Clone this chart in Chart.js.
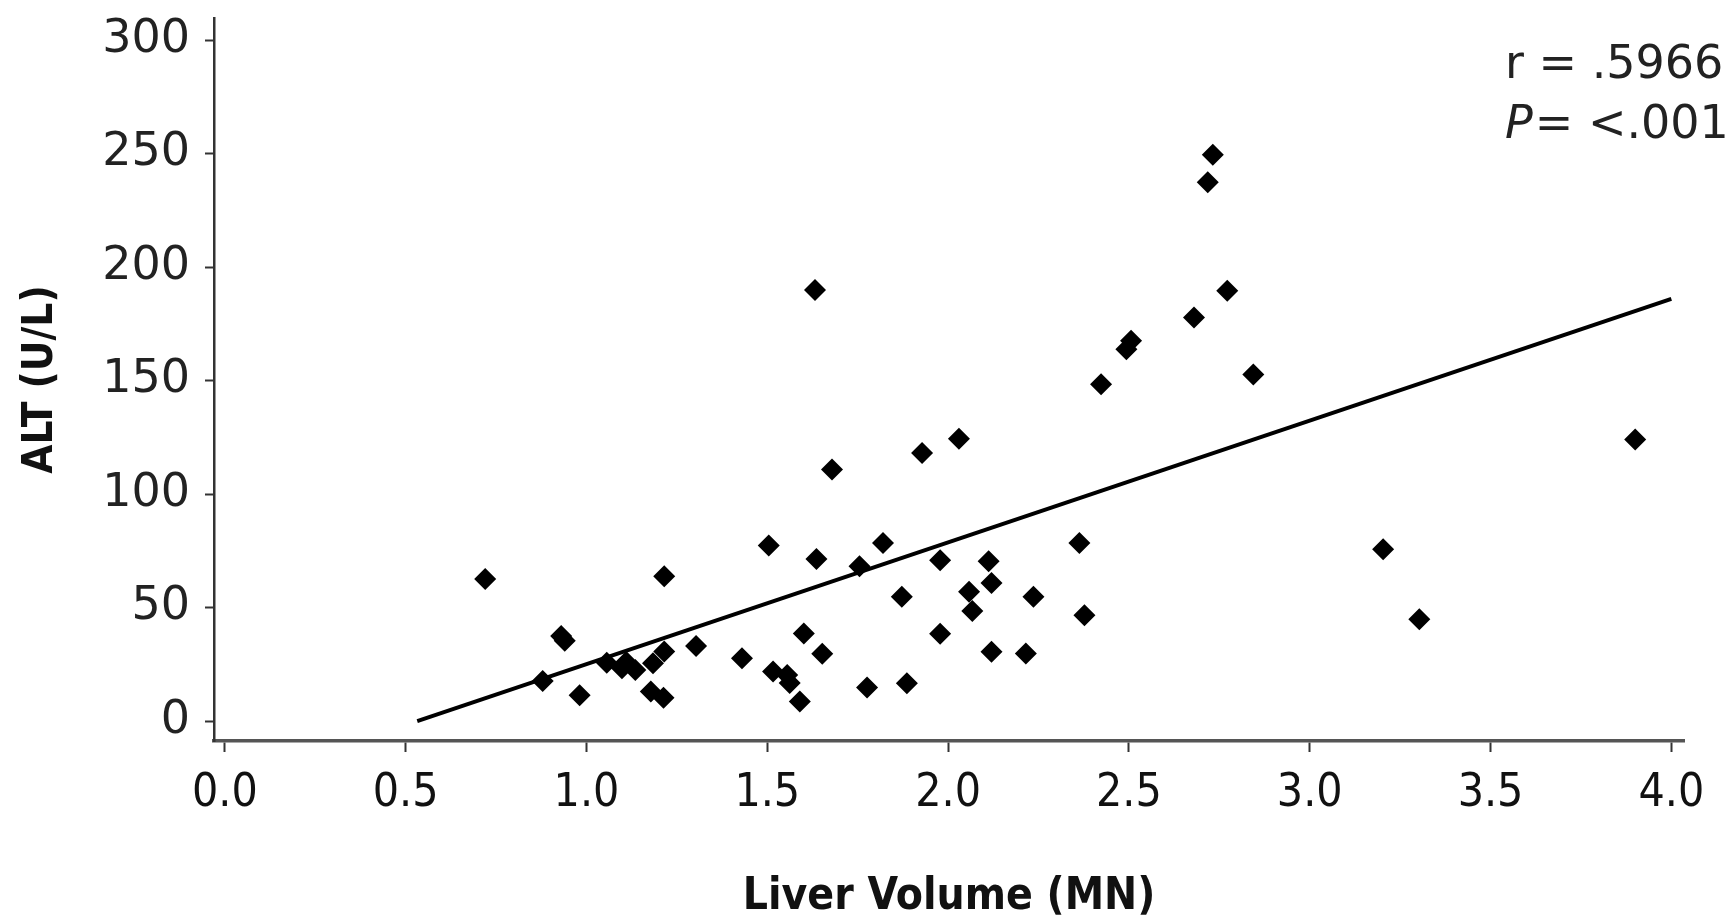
<!DOCTYPE html>
<html lang="en">

<head>
    <meta charset="UTF-8">
    <title>ALT vs Liver Volume</title>
    <script src="https://cdn.jsdelivr.net/npm/chart.js"></script>
    <style>
        body { margin: 0; background: #fff; }
        #wrap { width: 1729px; height: 916px; position: relative; }
    </style>
</head>

<body>
    <div id="wrap">
        <canvas id="scatterChart"></canvas>
    </div>

    <script>
        // values
        const liverVolume = [0.72, 0.879, 0.93, 0.94, 0.981, 1.056, 1.098, 1.11, 1.135, 1.184,
            1.215, 1.178, 1.213, 1.215, 1.303, 1.43, 1.504, 1.516, 1.555, 1.562,
            1.59, 1.601, 1.652, 1.636, 1.632, 1.679, 1.755, 1.776, 1.82, 1.872,
            1.886, 1.928, 1.978, 1.978, 2.03, 2.058, 2.067, 2.112, 2.12, 2.12,
            2.215, 2.236, 2.363, 2.377, 2.423, 2.493, 2.506, 2.68, 2.718, 2.732,
            2.772, 2.844, 3.203, 3.303, 3.9];
        const altValues = [62.6, 17.6, 37.5, 35.4, 11.4, 25.7, 23.2, 26.0, 22.5, 25.4,
            30.6, 13.0, 10.2, 63.8, 33.0, 27.6, 77.3, 21.8, 20.3, 16.8,
            8.6, 38.6, 29.6, 71.4, 189.9, 110.8, 68.2, 14.8, 78.4, 54.8,
            16.6, 118.1, 70.8, 38.5, 124.3, 56.9, 48.5, 70.4, 60.8, 30.5,
            29.7, 54.8, 78.4, 46.6, 148.4, 163.8, 167.5, 177.8, 237.3, 249.5,
            189.6, 152.6, 75.7, 44.8, 124];

        // regression line end points
        const fitX = [0.532, 4.0];
        const fitY = [0, 186];

        const xTicks = [0, 0.5, 1.0, 1.5, 2.0, 2.5, 3.0, 3.5, 4.0];
        const yTicks = [0, 50, 100, 150, 200, 250, 300];

        const points = liverVolume.map((v, i) => ({ x: v, y: altValues[i] }));
        const fitLine = fitX.map((v, i) => ({ x: v, y: fitY[i] }));

        const narrow = '"Liberation Sans Narrow", "DejaVu Sans Condensed", sans-serif';

        // r / P text in the top right corner
        const statsLabel = {
            id: 'statsLabel',
            afterDraw(chart) {
                const ctx = chart.ctx;
                ctx.save();
                ctx.fillStyle = '#222';
                ctx.textBaseline = 'alphabetic';
                ctx.textAlign = 'left';
                ctx.font = '46px "DejaVu Sans"';
                ctx.fillText('r = .5966', 1505, 78);
                ctx.font = 'italic 46px "DejaVu Sans"';
                ctx.fillText('P', 1505, 138);
                const w = ctx.measureText('P').width;
                ctx.font = '46px "DejaVu Sans"';
                ctx.fillText('= <.001', 1505 + w + 2, 138);
                ctx.restore();
            }
        };

        const ctx = document.getElementById('scatterChart').getContext('2d');
        new Chart(ctx, {
            type: 'scatter',
            data: {
                datasets: [
                    {
                        label: 'ALT',
                        data: points,
                        pointStyle: 'rectRot',
                        pointRadius: 11,
                        pointBorderWidth: 0,
                        backgroundColor: '#000',
                        borderColor: '#000'
                    },
                    {
                        label: 'Fit',
                        data: fitLine,
                        showLine: true,
                        pointRadius: 0,
                        borderColor: '#000',
                        borderWidth: 4
                    }
                ]
            },
            options: {
                responsive: true,
                maintainAspectRatio: false,
                animation: false,
                layout: {
                    padding: { left: 0, top: 18, right: 45, bottom: 0 }
                },
                plugins: {
                    legend: { display: false },
                    tooltip: { enabled: false }
                },
                scales: {
                    x: {
                        type: 'linear',
                        min: -0.03,
                        max: 4.035,
                        afterBuildTicks: s => { s.ticks = xTicks.map(v => ({ value: v })); },
                        afterFit: s => { s.height = 175; s.paddingLeft = 0; s.paddingRight = 0; },
                        border: { color: '#555', width: 3.5 },
                        grid: {
                            drawOnChartArea: false,
                            tickLength: 11,
                            tickColor: '#333',
                            tickWidth: 2
                        },
                        ticks: {
                            padding: 14,
                            color: '#111',
                            maxRotation: 0,
                            font: { family: narrow, size: 46 },
                            callback: v => v.toFixed(1)
                        },
                        title: {
                            display: true,
                            text: 'Liver Volume (MN)',
                            color: '#111',
                            padding: { top: 0, bottom: 0 },
                            font: { family: narrow, size: 44, weight: 'bold', lineHeight: 0.84 }
                        }
                    },
                    y: {
                        type: 'linear',
                        min: -8.8,
                        max: 309.7,
                        afterBuildTicks: s => { s.ticks = yTicks.map(v => ({ value: v })); },
                        afterFit: s => { s.width = 214; s.paddingTop = 0; s.paddingBottom = 0; },
                        border: { color: '#333', width: 2.5 },
                        grid: {
                            drawOnChartArea: false,
                            tickLength: 9,
                            tickColor: '#333',
                            tickWidth: 2
                        },
                        ticks: {
                            padding: 15,
                            color: '#222',
                            font: { family: '"DejaVu Sans", sans-serif', size: 46 }
                        },
                        title: {
                            display: true,
                            text: 'ALT (U/L)',
                            color: '#111',
                            padding: { top: 16, bottom: 0 },
                            font: { family: narrow, size: 42, weight: 'bold' }
                        }
                    }
                }
            },
            plugins: [statsLabel]
        });
    </script>
</body>

</html>
